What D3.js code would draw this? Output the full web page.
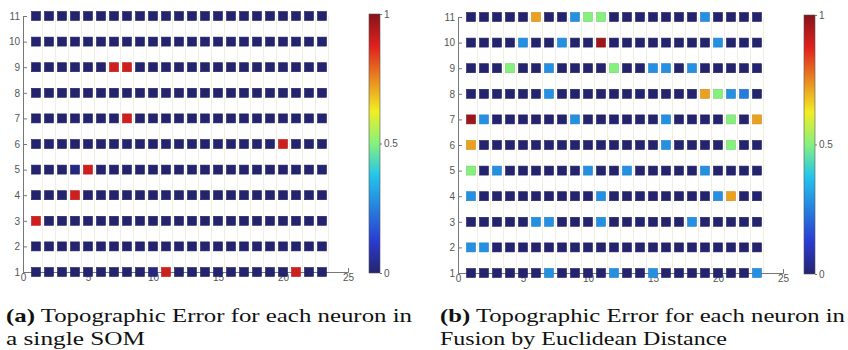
<!DOCTYPE html>
<html>
<head>
<meta charset="utf-8">
<script src="https://cdn.jsdelivr.net/npm/d3@7"></script>
<style>
  html, body { margin: 0; padding: 0; background: #fff; }
  svg { display: block; }
  .tick text { font-family: "Liberation Sans", Arial, sans-serif; font-size: 10px; fill: #555; }
  .caption { font-family: "Liberation Serif", "DejaVu Serif", serif; font-size: 19px; fill: #111; }
</style>
</head>
<body>
<svg id="chart" width="848" height="350"></svg>
<script>
// Topographic error per neuron on a 23 x 11 map; rows listed from y = 11 (top) down to y = 1.
const columns = [1,2,3,4,5,6,7,8,9,10,11,12,13,14,15,16,17,18,19,20,21,22,23];
const rowsY = [11,10,9,8,7,6,5,4,3,2,1];
const xTicks = [0, 5, 10, 15, 20, 25];
const yTicks = [1,2,3,4,5,6,7,8,9,10,11];
const colorTicks = [0, 0.5, 1];
const colorTickLabels = ["0", "0.5", "1"];

// (a) single SOM
const singleSom = [
  [0,0,0,0,0,0,0,0,0,0,0,0,0,0,0,0,0,0,0,0,0,0,0],
  [0,0,0,0,0,0,0,0,0,0,0,0,0,0,0,0,0,0,0,0,0,0,0],
  [0,0,0,0,0,0,0.9,0.9,0,0,0,0,0,0,0,0,0,0,0,0,0,0,0],
  [0,0,0,0,0,0,0,0,0,0,0,0,0,0,0,0,0,0,0,0,0,0,0],
  [0,0,0,0,0,0,0,0.9,0,0,0,0,0,0,0,0,0,0,0,0,0,0,0],
  [0,0,0,0,0,0,0,0,0,0,0,0,0,0,0,0,0,0,0,0.9,0,0,0],
  [0,0,0,0.02,0.9,0,0,0,0,0,0,0,0,0,0,0,0,0,0,0,0,0,0],
  [0,0,0,0.9,0,0,0,0,0,0,0,0,0,0,0,0,0,0,0,0,0,0,0],
  [0.9,0,0,0,0,0,0,0,0,0,0,0,0,0,0,0,0,0,0,0,0,0,0],
  [0,0,0,0,0,0,0,0,0,0,0,0,0,0,0,0,0,0,0,0,0,0,0],
  [0,0,0,0,0,0,0,0,0,0.02,0.9,0,0,0,0,0,0,0,0,0,0.9,0,0]
];

// (b) fusion by Euclidean distance
const fusionEuclid = [
  [0,0,0,0,0,0.72,0,0,0.28,0.5,0.5,0,0,0,0,0,0,0,0.28,0,0,0,0],
  [0,0,0,0,0.28,0,0,0.28,0,0,0.97,0,0,0,0,0,0,0,0,0.28,0,0,0],
  [0,0,0,0.5,0,0,0.28,0,0,0,0,0.5,0,0,0.28,0.28,0,0.28,0,0,0,0,0],
  [0,0,0,0,0,0,0.28,0,0,0,0,0,0,0,0,0,0,0,0.72,0.5,0.28,0.24,0],
  [0.97,0.28,0,0,0,0,0,0,0.28,0,0,0,0,0,0,0.28,0,0,0,0,0.5,0,0.72],
  [0.72,0,0,0,0,0,0,0,0,0,0,0,0,0,0,0.28,0,0,0,0,0.5,0,0],
  [0.5,0,0.28,0,0,0,0,0,0,0.28,0,0,0.28,0,0,0,0,0,0.28,0,0,0,0],
  [0.28,0,0,0,0,0,0,0,0,0,0.28,0,0,0,0,0,0,0,0,0.28,0.72,0,0],
  [0,0,0,0,0,0.28,0.28,0,0,0,0.28,0,0,0,0,0,0,0.28,0,0,0,0,0],
  [0.28,0.28,0,0,0,0,0,0,0,0,0,0,0,0,0,0,0,0,0,0,0,0,0],
  [0,0,0,0,0,0,0.28,0,0,0,0,0.28,0,0,0.28,0,0,0,0,0,0,0,0.28]
];

const captionA = ["Topographic Error for each neuron in", "a single SOM"];
const captionB = ["Topographic Error for each neuron in", "Fusion by Euclidean Distance"];

// jet-like colour map
const jet = d3.scaleLinear()
  .domain([0, 0.125, 0.375, 0.5, 0.625, 0.875, 1])
  .range(["#24246e", "#2a3cd2", "#22c4ec", "#86f07e", "#f2ee22", "#e0201e", "#86141a"])
  .interpolate(d3.interpolateRgb)
  .clamp(true);

const svg = d3.select("#chart");
const defs = svg.append("defs");
const grad = defs.append("linearGradient")
  .attr("id", "jetGrad").attr("x1", 0).attr("y1", 1).attr("x2", 0).attr("y2", 0);
d3.range(0, 1.0001, 0.025).forEach(t => {
  grad.append("stop").attr("offset", t).attr("stop-color", jet(t));
});

function panel(opts) {
  const x = d3.scaleLinear().domain([0, 25]).range([opts.left, opts.left + 325]);
  const y = d3.scaleLinear().domain([1, 11]).range([opts.bottom, opts.top]);
  const g = svg.append("g");

  // faint column guides
  g.append("g").selectAll("line")
    .data(columns)
    .join("line")
    .attr("x1", d => x(d + 0.5)).attr("x2", d => x(d + 0.5))
    .attr("y1", y(11)).attr("y2", y(1))
    .attr("stroke", "#f1efe4").attr("stroke-width", 1);

  // axes
  const xAxis = d3.axisBottom(x).tickValues(xTicks).tickSize(-4).tickPadding(4);
  const yAxis = d3.axisLeft(y).tickValues(yTicks).tickSize(-4).tickPadding(3);
  const gx = g.append("g").attr("transform", `translate(0,${y(1)})`).call(xAxis);
  const gy = g.append("g").attr("transform", `translate(${x(0)},0)`).call(yAxis);
  [gx, gy].forEach(a => {
    a.select(".domain").attr("stroke", "#777").attr("stroke-width", 1);
    a.selectAll(".tick line").attr("stroke", "#777");
  });
  gx.selectAll(".tick text").attr("dy", "0.5em");

  // neuron markers
  const cells = [];
  opts.values.forEach((row, ri) => row.forEach((v, ci) => cells.push({ x: columns[ci], y: rowsY[ri], v })));
  const s = 9;
  g.append("g").selectAll("rect")
    .data(cells)
    .join("rect")
    .attr("x", d => x(d.x) - s / 2)
    .attr("y", d => y(d.y) - s / 2)
    .attr("width", s).attr("height", s)
    .attr("fill", d => jet(d.v))
    .attr("stroke", d => d3.color(jet(d.v)).darker(0.4))
    .attr("stroke-width", 0.6);

  // colour bar
  const cb = d3.scaleLinear().domain([0, 1]).range([opts.bottom + 1, opts.top - 2]);
  g.append("rect")
    .attr("x", opts.cbx).attr("y", cb(1))
    .attr("width", 11).attr("height", cb(0) - cb(1))
    .attr("fill", "url(#jetGrad)")
    .attr("stroke", "#555").attr("stroke-width", 0.6);
  const cAxis = d3.axisRight(cb).tickValues(colorTicks)
    .tickFormat((d, i) => colorTickLabels[i]).tickSize(2).tickPadding(2);
  const gc = g.append("g").attr("transform", `translate(${opts.cbx + 11},0)`).call(cAxis);
  gc.select(".domain").remove();
  gc.selectAll(".tick line").attr("stroke", "#777");

  // caption
  const cap = g.append("text").attr("class", "caption");
  const l1 = cap.append("tspan").attr("x", opts.capx).attr("y", 322);
  l1.append("tspan").attr("font-weight", "bold").text(opts.tag);
  l1.append("tspan").text(" " + opts.caption[0]);
  svg.append("text").attr("class", "caption")
    .attr("x", opts.capx).attr("y", 345)
    .attr("textLength", opts.line2Len).attr("lengthAdjust", "spacingAndGlyphs")
    .text(opts.caption[1]);
  cap.attr("textLength", opts.line1Len).attr("lengthAdjust", "spacingAndGlyphs");
}

panel({ left: 23, top: 16, bottom: 272, cbx: 369, values: singleSom,
        tag: "(a)", caption: captionA, capx: 6, line1Len: 406, line2Len: 139 });
panel({ left: 458, top: 17, bottom: 273, cbx: 804, values: fusionEuclid,
        tag: "(b)", caption: captionB, capx: 440, line1Len: 405, line2Len: 287 });
</script>
</body>
</html>
